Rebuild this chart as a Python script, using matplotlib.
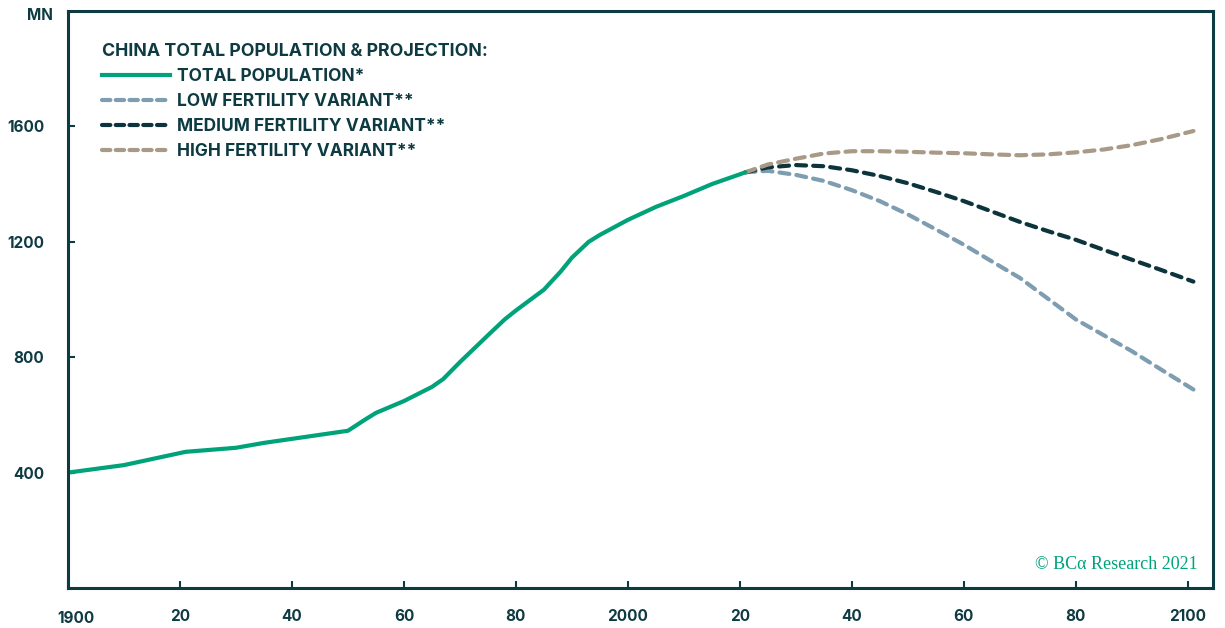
import matplotlib
matplotlib.use("Agg")
import matplotlib.pyplot as plt
from matplotlib.lines import Line2D
from matplotlib.transforms import offset_copy

# Historical total population (millions)
hist_years = [1900, 1910, 1921, 1930, 1935, 1940, 1950, 1953, 1955, 1960, 1965, 1967,
              1970, 1975, 1978, 1980, 1985, 1988, 1990, 1993, 1995, 2000, 2005, 2010,
              2015, 2020, 2021]
hist_pop = [400, 426, 472, 486, 503, 517, 545, 583, 607, 648, 697, 724,
            783, 876, 931, 962, 1034, 1097, 1145, 1200, 1224, 1276, 1321, 1359,
            1400, 1434, 1441]

# UN projection variants (millions)
proj_years = [2021, 2025, 2030, 2035, 2040, 2045, 2050, 2055, 2060, 2065, 2070,
              2075, 2080, 2085, 2090, 2095, 2101]
low_pop = [1441, 1446, 1432, 1411, 1379, 1341, 1295, 1243, 1190, 1132, 1075,
           1003, 931, 876, 821, 760, 688]
med_pop = [1441, 1458, 1466, 1462, 1448, 1428, 1403, 1373, 1341, 1305, 1269,
           1237, 1207, 1172, 1138, 1104, 1062]
high_pop = [1441, 1468, 1488, 1506, 1514, 1514, 1512, 1509, 1507, 1503, 1500,
            1503, 1510, 1520, 1535, 1555, 1584]

x_ticks = [1900, 1920, 1940, 1960, 1980, 2000, 2020, 2040, 2060, 2080, 2100]
x_tick_labels = ["1900", "20", "40", "60", "80", "2000", "20", "40", "60", "80", "2100"]
y_ticks = [400, 800, 1200, 1600]

DARK = "#0e3a42"
GREEN = "#00a27a"
LOW = "#7f9db1"
MED = "#0d343c"
HIGH = "#a99a88"

plt.rcParams["font.family"] = ["Inter", "DejaVu Sans"]
plt.rcParams["font.weight"] = "bold"

fig = plt.figure(figsize=(12.25, 6.28), dpi=100)
ax = fig.add_axes([68 / 1225, 1 - 588 / 628, (1213 - 68) / 1225, (588 - 11) / 628])

dash_kw = dict(lw=3.0, dashes=(2.4, 1.7), dash_capstyle="round")
ax.plot(proj_years, low_pop, color=LOW, **dash_kw)
ax.plot(proj_years, med_pop, color=MED, **dash_kw)
ax.plot(proj_years, high_pop, color=HIGH, **dash_kw)
ax.plot(hist_years, hist_pop, color=GREEN, lw=3.0, solid_capstyle="round")

ax.set_xlim(1900, 2104.5)
ax.set_ylim(0, 2000)

ax.set_xticks(x_ticks)
ax.set_xticklabels(x_tick_labels)
ax.set_yticks(y_ticks)
for sp in ax.spines.values():
    sp.set_color(DARK)
    sp.set_linewidth(2.2)
ax.tick_params(axis="both", direction="in", length=5, width=1.5, color=DARK,
               labelcolor=DARK, labelsize=11)
ax.tick_params(axis="x", pad=15)
ax.tick_params(axis="y", pad=17)
for lbl in ax.get_xticklabels() + ax.get_yticklabels():
    lbl.set_fontweight("bold")

# nudge the first year label slightly right and down
first = ax.get_xticklabels()[0]
first.set_transform(offset_copy(first.get_transform(), fig=fig, x=8, y=-2, units="dots"))

fig.text(40 / 1225, 1 - 15 / 628, "MN", color=DARK, fontsize=11,
         fontweight="bold", ha="center", va="center")

handles = [
    Line2D([], [], color=GREEN, lw=3.0),
    Line2D([], [], color=LOW, lw=3.0, dashes=(2.0, 1.3), dash_capstyle="round"),
    Line2D([], [], color=MED, lw=3.0, dashes=(2.0, 1.3), dash_capstyle="round"),
    Line2D([], [], color=HIGH, lw=3.0, dashes=(2.0, 1.3), dash_capstyle="round"),
]
labels = ["TOTAL POPULATION*", "LOW FERTILITY VARIANT**",
          "MEDIUM FERTILITY VARIANT**", "HIGH FERTILITY VARIANT**"]
leg = ax.legend(handles, labels, title="CHINA TOTAL POPULATION & PROJECTION:",
                loc="upper left", bbox_to_anchor=(0.0235, 0.957), frameon=False,
                handlelength=3.9, handletextpad=0.45, labelspacing=0.47,
                prop={"size": 12.5, "weight": "bold"},
                title_fontproperties={"size": 12.8, "weight": "bold"},
                alignment="left", borderaxespad=0)
for t in leg.get_texts():
    t.set_color(DARK)
leg.get_title().set_color(DARK)

ax.text(0.987, 0.04, "© BCα Research 2021", transform=ax.transAxes,
        ha="right", va="center", color=GREEN, fontsize=13,
        family=["Liberation Serif", "DejaVu Serif"], fontweight="normal")

fig.savefig("out.png", dpi=100)
